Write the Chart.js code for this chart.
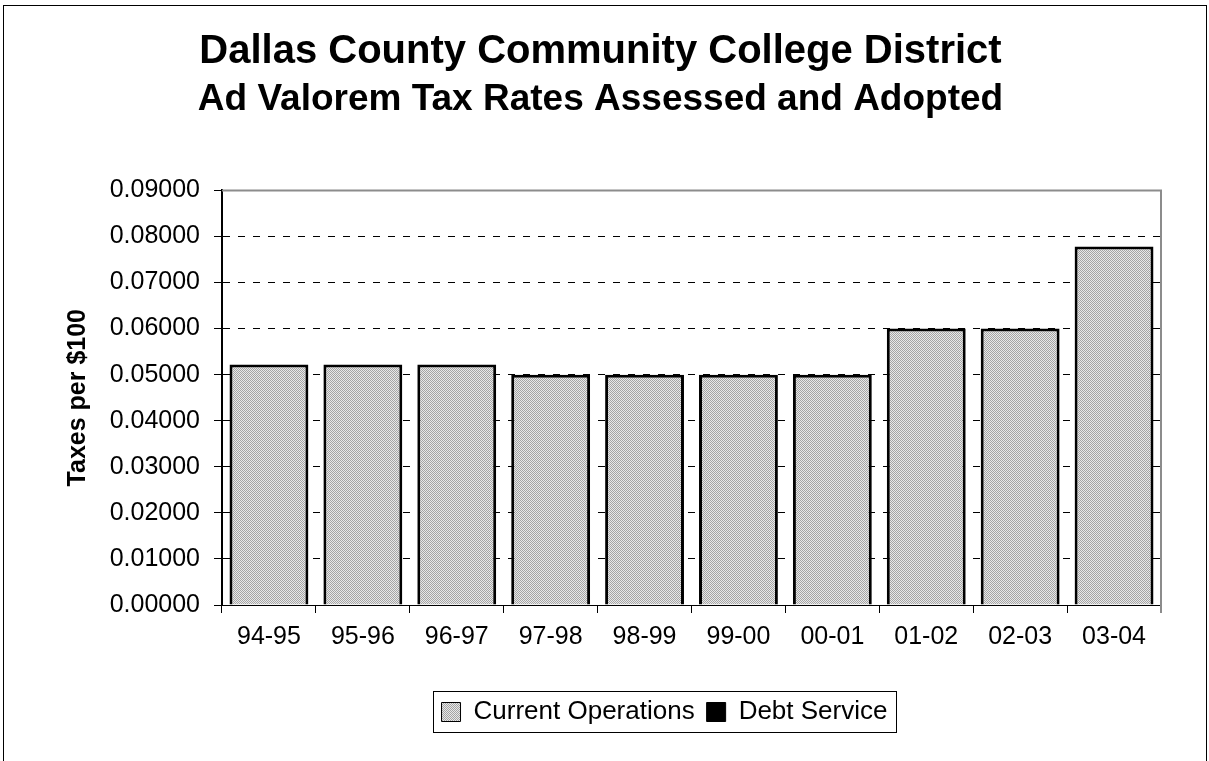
<!DOCTYPE html>
<html>
<head>
<meta charset="utf-8">
<script src="https://cdn.jsdelivr.net/npm/chart.js@4.4.1/dist/chart.umd.min.js"></script>
<style>
    html, body { margin: 0; padding: 0; background: #fff; }
    #wrap { width: 1209px; height: 761px; position: relative; }
</style>
</head>
<body>
<div id="wrap"><canvas id="taxChart" width="1209" height="761"></canvas></div>
<script>
// fiscal years
const years = ['94-95', '95-96', '96-97', '97-98', '98-99', '99-00', '00-01', '01-02', '02-03', '03-04'];
// rates per $100 valuation
const currentOperations = [0.0522, 0.0522, 0.0522, 0.0500, 0.0500, 0.0500, 0.0500, 0.0600, 0.0600, 0.0778];
const debtService = [0, 0, 0, 0, 0, 0, 0, 0, 0, 0];
const yTicks = [0, 0.01, 0.02, 0.03, 0.04, 0.05, 0.06, 0.07, 0.08, 0.09];

const FONT = "'Liberation Sans', Arial, sans-serif";
const LEGEND_FONT_SIZE = 26;
const LEGEND_BOX = 19;
const LEGEND_PAD = 12;

/**
 * Small stippled gray fill like the old spreadsheet pattern
 */
function makeStipple() {
    const c = document.createElement('canvas');
    c.width = 2;
    c.height = 2;
    const g = c.getContext('2d');
    g.fillStyle = '#e8e8e8';
    g.fillRect(0, 0, 2, 2);
    g.fillStyle = '#a4a4a4';
    g.fillRect(0, 0, 1, 1);
    g.fillRect(1, 1, 1, 1);
    return g.createPattern(c, 'repeat');
}

const ctx = document.getElementById('taxChart').getContext('2d');
const stipple = makeStipple();

// the original legend sits right of centre
const LEGEND_SHIFT = 64;

// frame, plot border and legend box
const decorations = {
    id: 'decorations',
    afterLayout(chart) {
        chart.legend.left += LEGEND_SHIFT;
        chart.legend.right += LEGEND_SHIFT;
    },
    afterDraw(chart) {
        const c = chart.ctx;
        const a = chart.chartArea;
        const lg = chart.legend;
        c.save();
        // outer frame
        c.strokeStyle = '#000';
        c.lineWidth = 1;
        c.strokeRect(3.5, 5.5, 1203, 800);
        // gray top/right plot border
        c.strokeStyle = '#8c8c8c';
        c.lineWidth = 2;
        c.beginPath();
        c.moveTo(a.left, a.top);
        c.lineTo(a.right, a.top);
        c.lineTo(a.right, a.bottom + 8);
        c.stroke();
        // legend border, worked out the same way the legend lays out its row
        c.font = LEGEND_FONT_SIZE + 'px ' + FONT;
        const items = chart.data.datasets.map(ds => ds.label);
        const rowWidth = items.reduce((s, t) => s + LEGEND_BOX + LEGEND_FONT_SIZE / 2 + c.measureText(t).width + LEGEND_PAD, 0);
        const startX = (lg.left + LEGEND_PAD + lg.right - rowWidth) / 2;
        const endX = startX + rowWidth - LEGEND_PAD;
        const cy = lg.top + LEGEND_PAD + LEGEND_FONT_SIZE / 2;
        c.strokeStyle = '#000';
        c.lineWidth = 1;
        c.strokeRect(Math.round(startX - 9) + 0.5, Math.round(cy - 21) + 0.5, Math.round(endX - startX + 17), 41);
        c.restore();
    }
};

new Chart(ctx, {
    type: 'bar',
    data: {
        labels: years,
        datasets: [{
            label: 'Current Operations',
            data: currentOperations,
            backgroundColor: stipple,
            borderColor: '#000',
            borderWidth: 3,
            borderSkipped: 'bottom',
            barPercentage: 0.84,
            categoryPercentage: 1
        }, {
            label: 'Debt Service',
            data: debtService,
            backgroundColor: '#000',
            borderColor: '#000',
            borderWidth: 0,
            barPercentage: 0.84,
            categoryPercentage: 1
        }]
    },
    options: {
        responsive: false,
        animation: false,
        layout: {
            padding: { left: 40, right: 48, top: 0, bottom: 26 }
        },
        plugins: {
            title: {
                display: true,
                text: 'Dallas County Community College District',
                color: '#000',
                font: { family: FONT, size: 40, weight: 'bold' },
                padding: { top: 28, bottom: 2 }
            },
            subtitle: {
                display: true,
                text: 'Ad Valorem Tax Rates Assessed and Adopted',
                color: '#000',
                font: { family: FONT, size: 37, weight: 'bold' },
                padding: { top: 0, bottom: 68 }
            },
            legend: {
                position: 'bottom',
                labels: {
                    color: '#000',
                    font: { family: FONT, size: LEGEND_FONT_SIZE },
                    boxWidth: LEGEND_BOX,
                    boxHeight: LEGEND_BOX,
                    padding: LEGEND_PAD,
                    generateLabels: (chart) => chart.data.datasets.map((ds, i) => ({
                        text: ds.label,
                        fillStyle: ds.backgroundColor,
                        strokeStyle: '#000',
                        lineWidth: 1,
                        fontColor: '#000',
                        datasetIndex: i
                    }))
                }
            },
            tooltip: { enabled: false }
        },
        scales: {
            x: {
                stacked: true,
                afterFit: (scale) => { scale.height = 82; },
                grid: {
                    display: true,
                    drawOnChartArea: false,
                    drawTicks: true,
                    tickLength: 8,
                    color: '#000',
                    lineWidth: 1
                },
                border: { display: true, color: '#000', width: 1 },
                ticks: {
                    color: '#000',
                    font: { family: FONT, size: 25 },
                    padding: 9,
                    maxRotation: 0
                }
            },
            y: {
                stacked: true,
                min: 0,
                max: 0.09,
                afterFit: (scale) => { scale.width = 182; },
                afterBuildTicks: (scale) => {
                    scale.ticks = yTicks.map(v => ({ value: v }));
                },
                grid: {
                    drawOnChartArea: true,
                    drawTicks: true,
                    tickLength: 8,
                    color: (c) => (c.tick && (c.tick.value === 0 || c.tick.value >= 0.09)) ? 'rgba(0,0,0,0)' : '#000',
                    tickColor: '#000',
                    lineWidth: 1,
                    tickBorderDash: []
                },
                border: { display: true, color: '#000', width: 2, dash: [7, 8] },
                ticks: {
                    color: '#000',
                    font: { family: FONT, size: 25 },
                    padding: 14,
                    callback: (value) => Number(value).toFixed(5)
                },
                title: {
                    display: true,
                    text: 'Taxes per $100',
                    color: '#000',
                    font: { family: FONT, size: 25, weight: 'bold' },
                    padding: { top: 23, bottom: 0 }
                }
            }
        }
    },
    plugins: [decorations]
});
</script>
</body>
</html>
